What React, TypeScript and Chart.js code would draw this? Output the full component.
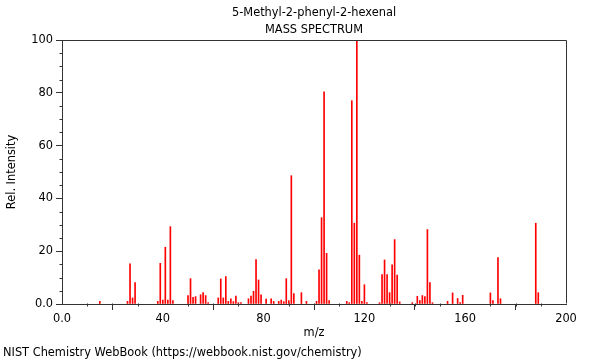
import React, { useEffect, useRef } from 'react';
import { Chart, registerables } from 'chart.js';

Chart.register(...registerables);

const TITLE = '5-Methyl-2-phenyl-2-hexenal';
const SUBTITLE = 'MASS SPECTRUM';
const FOOTER = 'NIST Chemistry WebBook (https://webbook.nist.gov/chemistry)';
const X_LABEL = 'm/z';
const Y_LABEL = 'Rel. Intensity';

const MZ = [
  15, 26, 27, 28, 29, 38, 39, 40, 41, 42, 43, 44, 50, 51, 52, 53, 55, 56, 57, 58,
  62, 63, 64, 65, 66, 67, 68, 69, 70, 71, 74, 75, 76, 77, 78, 79, 81, 83, 84, 86,
  87, 88, 89, 90, 91, 92, 95, 97, 101, 102, 103, 104, 105, 106, 113, 114, 115, 116,
  117, 118, 119, 120, 121, 126, 127, 128, 129, 130, 131, 132, 133, 134, 139, 141,
  142, 143, 144, 145, 146, 147, 153, 155, 157, 158, 159, 170, 171, 173, 174, 188, 189,
];
const INTENSITY = [
  1, 1, 15.2, 2.3, 8.1, 1, 15.4, 1.5, 21.5, 1.5, 29.3, 1.3, 3.2, 9.6, 2.5, 2.8, 3.5, 4.3, 3.2, 0.5,
  2.3, 9.5, 2.3, 10.4, 1, 2, 0.9, 3, 0.5, 0.5, 2, 3, 4.8, 16.8, 9.1, 3.5, 1.9, 2, 1, 1,
  1.5, 0.9, 9.6, 1.3, 48.6, 3.9, 4.3, 1, 1, 12.9, 32.7, 80.4, 19.2, 1.3, 1, 0.5, 77, 30.6,
  100, 18.5, 1, 7.3, 0.5, 0.5, 11.1, 16.7, 11.1, 4.3, 14.8, 24.4, 11, 0.8, 0.5, 2.9,
  1.3, 3.2, 2.8, 28.2, 8.1, 0.5, 1, 4.2, 2.1, 0.5, 3.3, 4.2, 1.3, 17.6, 2, 30.6, 4.3,
];

const X_TICKS = [0, 40, 80, 120, 160, 200];
const Y_TICKS = [0, 20, 40, 60, 80, 100];
const X_MINOR_STEP = 10;
const Y_MINOR_STEP = 5;

const FONT_FAMILY = 'DejaVu Sans';
const FONT_SIZE = 11.4;
const AXIS_COLOR = '#333333';
const BAR_COLOR = 'rgb(255,0,0)';

const fmt = (v: number) => (v === 0 ? '0.0' : String(v));

const decorations = {
  id: 'decorations',
  afterDraw(chart: any) {
    const { ctx, chartArea: a, scales } = chart;
    const x = scales.x;
    const y = scales.y;
    ctx.save();
    ctx.strokeStyle = AXIS_COLOR;
    ctx.lineWidth = 1;
    const l = Math.round(a.left) + 0.5;
    const r = Math.round(a.right) + 0.5;
    const t = Math.round(a.top) + 0.5;
    const b = Math.round(a.bottom) - 0.5;
    ctx.beginPath();
    ctx.moveTo(l, t);
    ctx.lineTo(r, t);
    ctx.lineTo(r, b);
    ctx.stroke();
    ctx.beginPath();
    for (let v = x.min; v <= x.max; v += X_MINOR_STEP) {
      if (X_TICKS.includes(v)) continue;
      const px = Math.round(x.getPixelForValue(v)) + 0.5;
      ctx.moveTo(px, b);
      ctx.lineTo(px, b + 3);
    }
    for (let v = y.min; v <= y.max; v += Y_MINOR_STEP) {
      if (Y_TICKS.includes(v)) continue;
      const py = Math.round(y.getPixelForValue(v)) + 0.5;
      ctx.moveTo(l, py);
      ctx.lineTo(l - 3, py);
    }
    ctx.stroke();
    ctx.fillStyle = '#000';
    ctx.font = `${FONT_SIZE}px "${FONT_FAMILY}"`;
    ctx.textAlign = 'center';
    ctx.textBaseline = 'middle';
    const cx = (a.left + a.right) / 2;
    ctx.fillText(TITLE, cx, 13);
    ctx.fillText(SUBTITLE, cx, 30);
    ctx.textAlign = 'left';
    ctx.fillText(FOOTER, 3, 353);
    ctx.restore();
  },
};

export default function App() {
  const ref = useRef<HTMLCanvasElement | null>(null);
  useEffect(() => {
    document.body.style.margin = '0';
    const canvas = ref.current;
    if (!canvas) return;
    const font = { family: FONT_FAMILY, size: FONT_SIZE };
    const chart = new Chart(canvas, {
      type: 'bar',
      data: {
        datasets: [
          {
            data: MZ.map((m, i) => ({ x: m, y: INTENSITY[i] })),
            backgroundColor: BAR_COLOR,
            borderWidth: 0,
            barThickness: 1,
          } as any,
        ],
      },
      options: {
        animation: false,
        responsive: false,
        devicePixelRatio: 1,
        layout: { padding: { top: 40, right: 34, bottom: 20, left: 0 } },
        plugins: { legend: { display: false }, tooltip: { enabled: false }, title: { display: false } },
        scales: {
          x: {
            type: 'linear',
            min: 0,
            max: 200,
            offset: false,
            afterBuildTicks: (s: any) => {
              s.ticks = X_TICKS.map((v) => ({ value: v }));
            },
            afterFit: (s: any) => {
              s.height = 36;
            },
            ticks: {
              callback: (v: any) => fmt(Number(v)),
              font,
              color: '#000',
              padding: 2,
              maxRotation: 0,
              autoSkip: false,
            },
            grid: { display: true, drawOnChartArea: false, drawTicks: true, tickLength: 6, color: AXIS_COLOR },
            border: { display: true, color: AXIS_COLOR },
            title: { display: true, text: X_LABEL, font, color: '#000', padding: { top: 0, bottom: 0 } },
          },
          y: {
            type: 'linear',
            min: 0,
            max: 100,
            afterBuildTicks: (s: any) => {
              s.ticks = Y_TICKS.map((v) => ({ value: v }));
            },
            afterFit: (s: any) => {
              s.width = 62;
            },
            ticks: { callback: (v: any) => fmt(Number(v)), font, color: '#000', padding: 3, autoSkip: false },
            grid: { display: true, drawOnChartArea: false, drawTicks: true, tickLength: 6, color: AXIS_COLOR },
            border: { display: true, color: AXIS_COLOR },
            title: { display: true, text: Y_LABEL, font, color: '#000', padding: { top: 5, bottom: 0 } },
          },
        },
      } as any,
      plugins: [decorations],
    });
    return () => chart.destroy();
  }, []);
  return <canvas ref={ref} width={600} height={360} style={{ display: 'block' }} />;
}
